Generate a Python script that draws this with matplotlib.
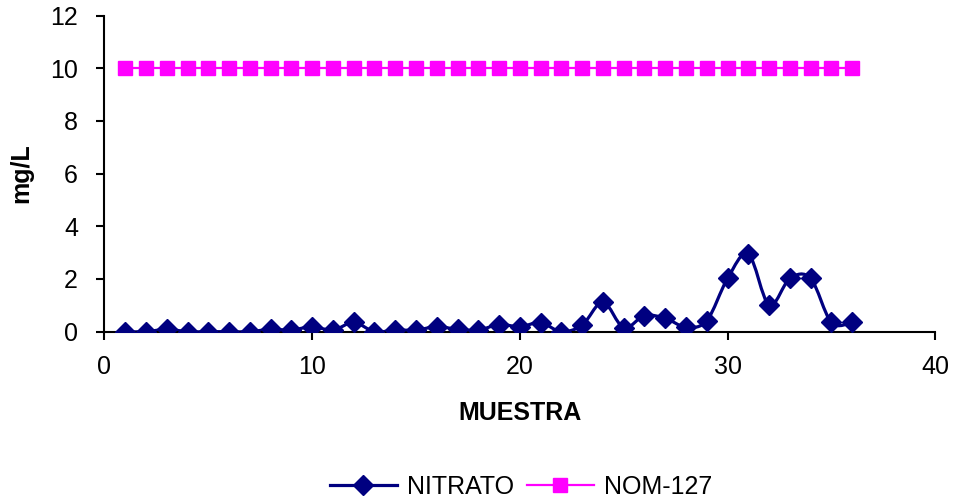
import numpy as np
import matplotlib
matplotlib.use("Agg")
import matplotlib.pyplot as plt
from matplotlib.path import Path
from matplotlib.patches import PathPatch

plt.rcParams['font.family'] = ['Liberation Sans', 'DejaVu Sans']

# data
muestra = np.arange(1, 37)
nitrato = [0.0, 0.0, 0.09, 0.0, 0.0, 0.0, 0.0, 0.09, 0.06, 0.19,
           0.06, 0.35, 0.0, 0.06, 0.06, 0.19, 0.09, 0.06, 0.27, 0.19,
           0.34, 0.0, 0.25, 1.12, 0.15, 0.61, 0.51, 0.17, 0.42, 2.02,
           2.95, 1.01, 2.02, 2.02, 0.35, 0.35]
nom127 = [10] * 36

navy = '#000080'
magenta = '#FF00FF'


def smooth_path(x, y, t=1/6):
    # excel-like smoothed line: catmull-rom turned into cubic bezier segments
    x = np.asarray(x, float)
    y = np.asarray(y, float)
    verts = [(x[0], y[0])]
    codes = [Path.MOVETO]
    n = len(x)
    for i in range(n - 1):
        i0 = max(i - 1, 0)
        i3 = min(i + 2, n - 1)
        c1 = (x[i] + (x[i + 1] - x[i0]) * t, y[i] + (y[i + 1] - y[i0]) * t)
        c2 = (x[i + 1] - (x[i3] - x[i]) * t, y[i + 1] - (y[i3] - y[i]) * t)
        verts += [c1, c2, (x[i + 1], y[i + 1])]
        codes += [Path.CURVE4] * 3
    return Path(verts, codes)


fig = plt.figure(figsize=(9.56, 5.01), dpi=100)
ax = fig.add_axes([0.1093, 0.338, 0.869, 0.631])

ax.add_patch(PathPatch(smooth_path(muestra, nitrato), fill=False,
                       edgecolor=navy, lw=2.3, zorder=2))
ax.plot(muestra, nitrato, ls='none', marker='D', ms=10.5, color=navy, zorder=3)
ax.plot(muestra, nom127, color=magenta, lw=1.6, marker='s', ms=9.5, zorder=3)

ax.set_xlim(0, 40)
ax.set_ylim(0, 12)
ax.set_xticks([0, 10, 20, 30, 40])
ax.set_yticks(range(0, 13, 2))
ax.spines['top'].set_visible(False)
ax.spines['right'].set_visible(False)
ax.spines['left'].set_linewidth(1.5)
ax.spines['bottom'].set_linewidth(1.5)
ax.tick_params(direction='out', length=6, width=1.5, labelsize=18)
ax.tick_params(axis='x', pad=11)
ax.tick_params(axis='y', pad=13)

ax.set_xlabel('MUESTRA', fontsize=18, fontweight='bold', labelpad=16)
ax.set_ylabel('mg/L', fontsize=18, fontweight='bold', labelpad=12)

h1 = plt.Line2D([], [], color=navy, lw=2.3, marker='D', ms=10.5)
h2 = plt.Line2D([], [], color=magenta, lw=1.6, marker='s', ms=9.5)
fig.legend([h1, h2], ['NITRATO', 'NOM-127'], loc='center',
           bbox_to_anchor=(0.545, 0.028), ncol=2, frameon=False,
           fontsize=18, handlelength=2.7, columnspacing=0.5, handletextpad=0.4)

fig.savefig('out.png', dpi=100)
